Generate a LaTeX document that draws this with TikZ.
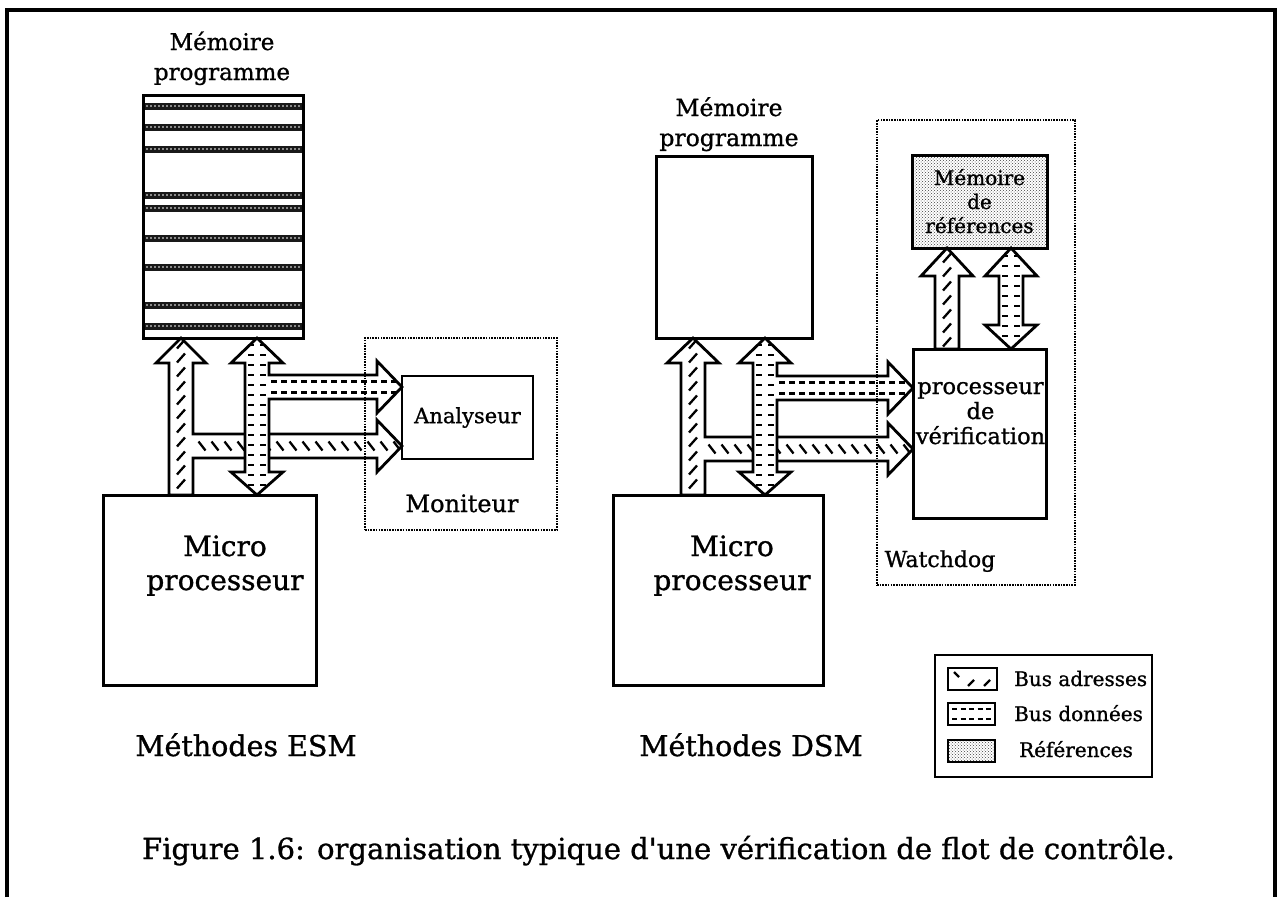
\documentclass[tikz,border=0pt]{standalone}
\usepackage{fontspec}
\setmainfont[FakeBold=1]{DejaVu Serif}
\usetikzlibrary{patterns}
\tikzset{
  box/.style={draw, line width=3pt, inner sep=0pt, fill=white},
  dotbox/.style={draw, line width=2.6pt, dash pattern=on 1.6pt off 1.1pt, inner sep=0pt},
  bus/.style={draw, line width=2.8pt, line join=miter},
  hatch/.style={line width=2.3pt},
  lbl/.style={inner sep=0pt, anchor=base, align=center},
  stripe/.style={line width=7pt, black!90},
  holes/.style={white, line width=1.6pt, line cap=round, dash pattern=on 0pt off 4pt},
  addrL/.style={insert path={(169,495) -- (169,363) -- (156,363) -- (181,338) -- (206,363) -- (193,363) -- (193,434) -- (377,434) -- (377,420) -- (402,446) -- (377,472) -- (377,458) -- (193,458) -- (193,495) -- cycle}},
  dataL/.style={insert path={(257,338) -- (283,363) -- (269,363) -- (269,375) -- (377,375) -- (377,361) -- (402,387) -- (377,413) -- (377,399) -- (269,399) -- (269,472) -- (283,472) -- (257,495) -- (231,472) -- (245,472) -- (245,363) -- (231,363) -- cycle}},
  addrR/.style={insert path={(681,495) -- (681,363) -- (667,363) -- (693,338) -- (719,363) -- (705,363) -- (705,437) -- (888,437) -- (888,423) -- (913,449) -- (888,475) -- (888,461) -- (705,461) -- (705,495) -- cycle}},
  dataR/.style={insert path={(765,338) -- (791,363) -- (777,363) -- (777,376) -- (888,376) -- (888,362) -- (913,388) -- (888,414) -- (888,400) -- (777,400) -- (777,472) -- (791,472) -- (765,495) -- (739,472) -- (753,472) -- (753,363) -- (739,363) -- cycle}},
  addrT/.style={insert path={(935,349) -- (935,276) -- (921,276) -- (947,248) -- (973,276) -- (959,276) -- (959,349) -- cycle}},
  dataT/.style={insert path={(1011,248) -- (1037,276) -- (1023,276) -- (1023,325) -- (1037,325) -- (1011,349) -- (985,325) -- (999,325) -- (999,276) -- (985,276) -- cycle}}
}
\begin{document}
\begin{tikzpicture}[x=1pt,y=-1pt]
\useasboundingbox (0,0) rectangle (1284,897);
% outer frame
\draw[line width=4pt] (7,897) -- (7,10) -- (1275,10) -- (1275,897);

% ---------------- left : ESM ----------------
\node[lbl, font=\fontsize{23}{30}\selectfont] (titL) at (222,80) {Mémoire\\programme};
\node[box, minimum width=160pt, minimum height=243pt] (memL) at (223,216.5) {};
\foreach \y in {106,127,149,195,208,238,267,305,326}{
  \draw[stripe] (144.5,\y) -- (301.5,\y);
  \draw[holes] (147,\y) -- (300,\y);
}
\node[box, fill=none, minimum width=160pt, minimum height=243pt] at (223,216.5) {};

\node[box, minimum width=213pt, minimum height=190pt] (micL) at (209.5,590) {};
\node[lbl, font=\fontsize{28}{34}\selectfont] (micLt) at (225,590) {Micro\\processeur};

\node[box, line width=2.6pt, minimum width=131pt, minimum height=83pt, font=\fontsize{21}{25}\selectfont] (ana) at (467.5,417.5) {Analyseur};

% address bus (left)
\fill[white, addrL];
\begin{scope}
  \clip[addrL];
  \foreach \y in {344,358,...,492} \draw[hatch] (177,\y+4.5) -- (185,\y-4.5);
  \foreach \x in {202,215,...,400} \draw[hatch] (\x-3.5,441.5) -- (\x+3.5,450.5);
\end{scope}
\draw[bus, addrL];
% data bus (left)
\fill[white, dataL];
\begin{scope}
  \clip[dataL];
  \foreach \y in {345,355,...,492}{\draw[hatch] (248,\y) -- (254,\y); \draw[hatch] (260,\y) -- (266,\y);}
  \draw[hatch, dash pattern=on 6pt off 4pt] (271,381.5) -- (402,381.5);
  \draw[hatch, dash pattern=on 6pt off 4pt] (271,392.5) -- (402,392.5);
\end{scope}
\draw[bus, dataL];

\node[dotbox, minimum width=192pt, minimum height=192pt] (mon) at (461,434) {};
\node[lbl, font=\fontsize{24}{30}\selectfont] (monT) at (462,512) {Moniteur};
\node[lbl, font=\fontsize{28.5}{34}\selectfont] (esm) at (246,756) {Méthodes ESM};

% ---------------- right : DSM ----------------
\node[lbl, font=\fontsize{23.5}{30}\selectfont] (titR) at (729,146) {Mémoire\\programme};
\node[box, minimum width=156pt, minimum height=182pt] (memR) at (734,247) {};
\node[box, minimum width=210pt, minimum height=190pt] (micR) at (718,590) {};
\node[lbl, font=\fontsize{28}{34}\selectfont] (micRt) at (732,590) {Micro\\processeur};

\node[draw, line width=3pt, inner sep=0pt, pattern=crosshatch dots, pattern color=black!75, minimum width=135pt, minimum height=93pt] (ref) at (979.5,201.5) {};
\node[lbl, font=\fontsize{20}{24}\selectfont] (refT) at (979.5,233) {Mémoire\\de\\références};
\node[box, minimum width=133pt, minimum height=169pt] (ver) at (979.5,433.5) {};
\node[lbl, font=\fontsize{22.5}{25}\selectfont] (verT) at (980.5,444) {processeur\\de\\vérification};

% address bus (right)
\fill[white, addrR];
\begin{scope}
  \clip[addrR];
  \foreach \y in {344,358,...,492} \draw[hatch] (689,\y+4.5) -- (697,\y-4.5);
  \foreach \x in {712,725,...,912} \draw[hatch] (\x-3.5,444.5) -- (\x+3.5,453.5);
\end{scope}
\draw[bus, addrR];
% data bus (right)
\fill[white, dataR];
\begin{scope}
  \clip[dataR];
  \foreach \y in {345,355,...,492}{\draw[hatch] (756,\y) -- (762,\y); \draw[hatch] (768,\y) -- (774,\y);}
  \draw[hatch, dash pattern=on 6pt off 4pt] (779,382.5) -- (913,382.5);
  \draw[hatch, dash pattern=on 6pt off 4pt] (779,393.5) -- (913,393.5);
\end{scope}
\draw[bus, dataR];
% buses between verification processor and reference memory
\fill[white, addrT];
\begin{scope}
  \clip[addrT];
  \foreach \y in {258,272,...,348} \draw[hatch] (943,\y+4.5) -- (951,\y-4.5);
\end{scope}
\draw[bus, addrT];
\fill[white, dataT];
\begin{scope}
  \clip[dataT];
  \foreach \y in {256,266,...,345}{\draw[hatch] (1002,\y) -- (1008,\y); \draw[hatch] (1014,\y) -- (1020,\y);}
\end{scope}
\draw[bus, dataT];

\node[dotbox, minimum width=198pt, minimum height=465pt] (wd) at (976,352.5) {};
\node[lbl, font=\fontsize{22}{28}\selectfont] (wdT) at (940,567) {Watchdog};
\node[lbl, font=\fontsize{28.5}{34}\selectfont] (dsm) at (751,756) {Méthodes DSM};

% ---------------- legend ----------------
\node[box, line width=2.6pt, minimum width=217pt, minimum height=122pt] (leg) at (1043.5,716) {};
\node[box, line width=2.6pt, minimum width=49pt, minimum height=22pt] (sw1) at (972.5,679) {};
\draw[hatch] (954,672) -- (959,677);
\draw[hatch] (968,686) -- (974,680);
\draw[hatch] (984,686) -- (990,680);
\node[box, line width=2.6pt, minimum width=47pt, minimum height=22pt] (sw2) at (971.5,714) {};
\draw[hatch, dash pattern=on 5pt off 3.5pt] (952,709) -- (992,709);
\draw[hatch, dash pattern=on 5pt off 3.5pt] (952,719) -- (992,719);
\node[draw, line width=2.6pt, inner sep=0pt, pattern=crosshatch dots, pattern color=black!75, minimum width=47pt, minimum height=22pt] (sw3) at (971.5,751) {};
\node[lbl, anchor=base west, font=\fontsize{20}{23}\selectfont] (l1) at (1014,686) {Bus adresses};
\node[lbl, anchor=base west, font=\fontsize{20}{23}\selectfont] (l2) at (1014,721) {Bus données};
\node[lbl, font=\fontsize{20}{23}\selectfont] (l3) at (1076,757) {Références};

% caption
\node[lbl, font=\fontsize{29}{34}\selectfont] (cap) at (658.5,859) {Figure 1.6: organisation typique d\textquotesingle une vérification de flot de contrôle.};
\end{tikzpicture}
\end{document}
